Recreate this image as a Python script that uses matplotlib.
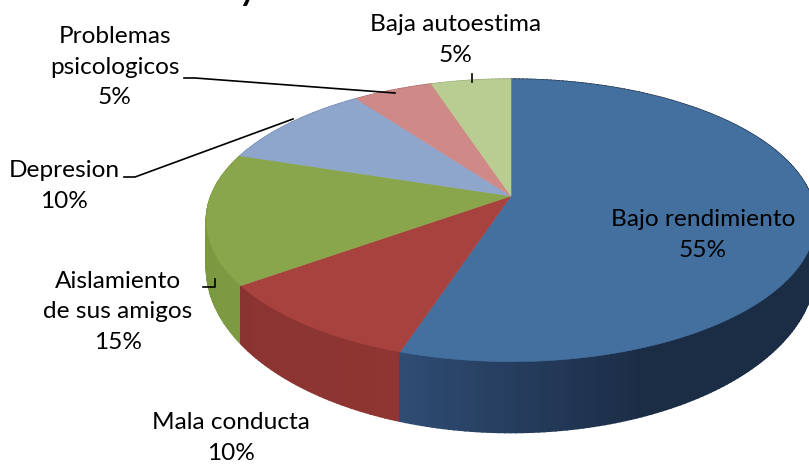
import matplotlib
matplotlib.use('Agg')
import matplotlib.pyplot as plt
import numpy as np

labels = ['Bajo rendimiento', 'Mala conducta', 'Aislamiento\nde sus amigos', 'Depresion', 'Problemas\npsicologicos', 'Baja autoestima']
values = [55, 10, 15, 10, 5, 5]
top_colors = ['#44709f', '#a8423f', '#8aa64c', '#8ea5cc', '#cf8a87', '#b9cc92']
side_start = ['#1b2c45', '#8f3532', '#7c9a42', '#7a90b5', '#b57572', '#a0b27c']
side_end = ['#2f4c73', '#8a3431', '#7a9840', '#6d82a5', '#a36866', '#90a26e']

label_pos = [(703, 235), (231, 438), (118, 312), (64, 186), (115, 67), (456, 40)]

# perspective ellipse, in pixels
cx, k, A = 511, 0.173, 300
top_y0, top_b = 196, 137
low_y0, low_b = 239, 160


def project(theta, y0, b):
    x = np.sin(theta)
    y = np.cos(theta)
    d = 1 + k * y
    return cx + A * x / d, y0 - b * y / d


def mix(c1, c2, t):
    a = np.array(matplotlib.colors.to_rgb(c1))
    b = np.array(matplotlib.colors.to_rgb(c2))
    return a + (b - a) * t


fig = plt.figure(figsize=(8.09, 4.66), dpi=100)
ax = fig.add_axes([0, 0, 1, 1])
ax.set_xlim(0, 809)
ax.set_ylim(466, 0)
ax.axis('off')

edges = np.cumsum([0] + values) / sum(values) * 2 * np.pi

# sides first
for i in range(len(values)):
    th = np.linspace(edges[i], edges[i + 1], int(values[i] * 4) + 2)
    for j in range(len(th) - 1):
        t = j / (len(th) - 2)
        if i == 0:
            t = max(0, (t - 0.8) / 0.2)  # blue only gets lighter near its front end
        seg = np.linspace(th[j], th[j + 1], 3)
        x1, y1 = project(seg, top_y0, top_b)
        x2, y2 = project(seg[::-1], low_y0, low_b)
        c = mix(side_start[i], side_end[i], t)
        ax.fill(np.r_[x1, x2], np.r_[y1, y2], color=c, lw=1.2, zorder=2 + j * 1e-4)

# top faces
for i in range(len(values)):
    th = np.linspace(edges[i], edges[i + 1], 120)
    x, y = project(th, top_y0, top_b)
    ax.fill(np.r_[cx, x], np.r_[top_y0, y], color=top_colors[i], lw=0.4, zorder=3)

# leader lines
ax.plot([184, 195, 395], [78, 78, 93], color='black', lw=1.2, zorder=4)
ax.plot([124, 135, 293], [177, 177, 119], color='black', lw=1.2, zorder=4)
ax.plot([203, 215, 215], [287, 287, 279], color='black', lw=1.2, zorder=4)
ax.plot([472, 472], [74, 82], color='black', lw=1.2, zorder=4)

for i in range(len(values)):
    ax.text(label_pos[i][0], label_pos[i][1], labels[i] + '\n' + str(values[i]) + '%',
            ha='center', va='center', fontsize=17.6, family='Lato', color='black',
            linespacing=1.58, zorder=5)

# tail of the cut off title
ax.text(248, -9, 'y', ha='center', va='center', fontsize=24, family='Lato', weight='bold', color='black')

fig.savefig('out.png', dpi=100)
